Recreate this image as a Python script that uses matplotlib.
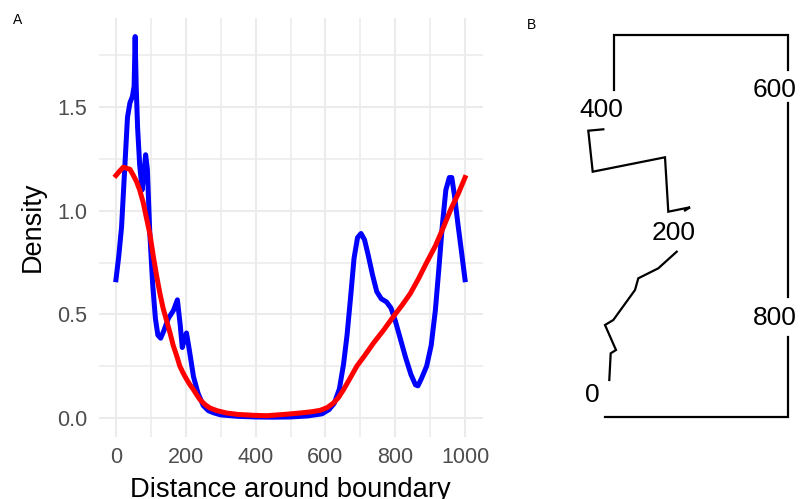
import numpy as np
import matplotlib

matplotlib.use("Agg")
import matplotlib.pyplot as plt

plt.rcParams['font.family'] = ['Liberation Sans', 'DejaVu Sans']

# panel A: density around the boundary
blue_x = [0, 8, 16, 25, 33, 40, 47, 52, 55, 58, 62, 68, 75, 80, 85, 90, 97, 105, 113, 120,
          128, 137, 150, 165, 176, 184, 190, 196, 202, 210, 222, 235, 250, 265, 280, 300,
          350, 400, 450, 500, 550, 590, 610, 625, 640, 652, 662, 672, 682, 692, 702, 712,
          722, 735, 747, 760, 775, 788, 800, 815, 830, 845, 858, 865, 875, 890, 903, 915,
          925, 935, 945, 955, 962, 970, 980, 990, 1000]
blue_y = [0.667, 0.78, 0.92, 1.20, 1.45, 1.52, 1.55, 1.60, 1.84, 1.60, 1.40, 1.22, 1.10,
          1.18, 1.27, 1.20, 0.89, 0.65, 0.48, 0.40, 0.385, 0.42, 0.48, 0.52, 0.57, 0.45,
          0.34, 0.38, 0.41, 0.33, 0.20, 0.12, 0.06, 0.035, 0.025, 0.015, 0.008, 0.005,
          0.004, 0.005, 0.01, 0.02, 0.04, 0.07, 0.14, 0.26, 0.40, 0.58, 0.77, 0.87, 0.89,
          0.86, 0.79, 0.69, 0.61, 0.575, 0.56, 0.53, 0.47, 0.38, 0.29, 0.21, 0.16, 0.155,
          0.19, 0.25, 0.35, 0.52, 0.72, 0.93, 1.10, 1.16, 1.16, 1.07, 0.93, 0.80, 0.667]

red_x = [0, 10, 21, 30, 40, 50, 59, 68, 78, 88, 97, 107, 116, 126, 135, 145, 155, 164, 174,
         183, 193, 203, 212, 222, 232, 241, 255, 269, 290, 317, 350, 394, 432, 480, 527,
         560, 585, 605, 623, 638, 652, 670, 690, 712, 737, 765, 795, 820, 843, 866, 890,
         915, 938, 960, 980, 1000]
red_y = [1.17, 1.19, 1.21, 1.205, 1.20, 1.17, 1.14, 1.10, 1.04, 0.96, 0.89, 0.78, 0.69,
         0.60, 0.53, 0.47, 0.41, 0.35, 0.30, 0.25, 0.215, 0.185, 0.16, 0.137, 0.11, 0.088,
         0.065, 0.048, 0.035, 0.024, 0.017, 0.013, 0.011, 0.017, 0.024, 0.03, 0.037, 0.05,
         0.072, 0.10, 0.137, 0.19, 0.25, 0.30, 0.36, 0.42, 0.49, 0.545, 0.60, 0.67, 0.75,
         0.83, 0.92, 1.01, 1.08, 1.16]

x_ticks = [0, 200, 400, 600, 800, 1000]
y_ticks = [0.0, 0.5, 1.0, 1.5]

# panel B: boundary outline, pieces broken where the labels sit
outline = [
    [(4.3, 37), (5.7, 63.7), (11, 67), (0, 92), (8.3, 97), (30, 127), (33.3, 138.7),
     (53.3, 148.7), (71.7, 165.3)],
    [(80, 206.5), (85, 209.7), (63.3, 205.3), (60, 259.7), (-12.3, 245.3), (-16.7, 286.3),
     (-1.7, 287.7)],
    [(9.3, 327), (9.3, 382), (183.3, 382), (183.3, 347)],
    [(183.3, 313.7), (183.3, 120.3)],
    [(183.3, 80.3), (183.3, 0.3), (0, 0.3)],
]
mark_text = ["0", "200", "400", "600", "800"]
mark_x = [-12.3, 69, -3.3, 170, 170]
mark_y = [22, 184.3, 307, 327, 98.7]

W, H = 801, 499
fig = plt.figure(figsize=(W / 100, H / 100), dpi=100)

ax = fig.add_axes([98.5 / W, 1 - 437 / H, 384 / W, 419.5 / H])
ax.plot(blue_x, blue_y, color="#0000FF", lw=3.6, solid_joinstyle="round")
ax.plot(red_x, red_y, color="#FF0000", lw=3.6, solid_joinstyle="round")
ax.set_xlim(-50, 1050)
ax.set_ylim(-0.0917, 1.932)
ax.set_xticks(x_ticks)
ax.set_xticks(np.arange(100, 1000, 200), minor=True)
ax.set_yticks(y_ticks)
ax.set_yticks([0.25, 0.75, 1.25, 1.75], minor=True)
ax.set_xticklabels([str(v) for v in x_ticks])
ax.set_yticklabels([f"{v:.1f}" for v in y_ticks])
ax.grid(True, which="major", color="#EBEBEB", lw=1.5)
ax.grid(True, which="minor", color="#EBEBEB", lw=1.1)
ax.set_axisbelow(True)
ax.tick_params(which="both", length=0, labelsize=15.5, labelcolor="#4D4D4D")
ax.tick_params(axis="y", pad=8)
ax.tick_params(axis="x", pad=7)
for s in ax.spines.values():
    s.set_visible(False)
ax.set_xlabel("Distance around boundary", fontsize=19.7, labelpad=7)
ax.set_ylabel("Density", fontsize=19.5, labelpad=8)
fig.text(13 / W, 1 - 24 / H, "A", fontsize=10)

bx = fig.add_axes([565 / W, 1 - 437 / H, 240 / W, 420 / H])
for piece in outline:
    px, py = zip(*piece)
    bx.plot(px, py, color="black", lw=1.6, solid_joinstyle="miter")
for t, x, y in zip(mark_text, mark_x, mark_y):
    bx.text(x, y, t, fontsize=19, ha="center", va="center")
bx.set_xlim(-40, 200)
bx.set_ylim(-20, 400)
bx.axis("off")
fig.text(527 / W, 1 - 29 / H, "B", fontsize=10)

fig.savefig("out.png", dpi=100)
